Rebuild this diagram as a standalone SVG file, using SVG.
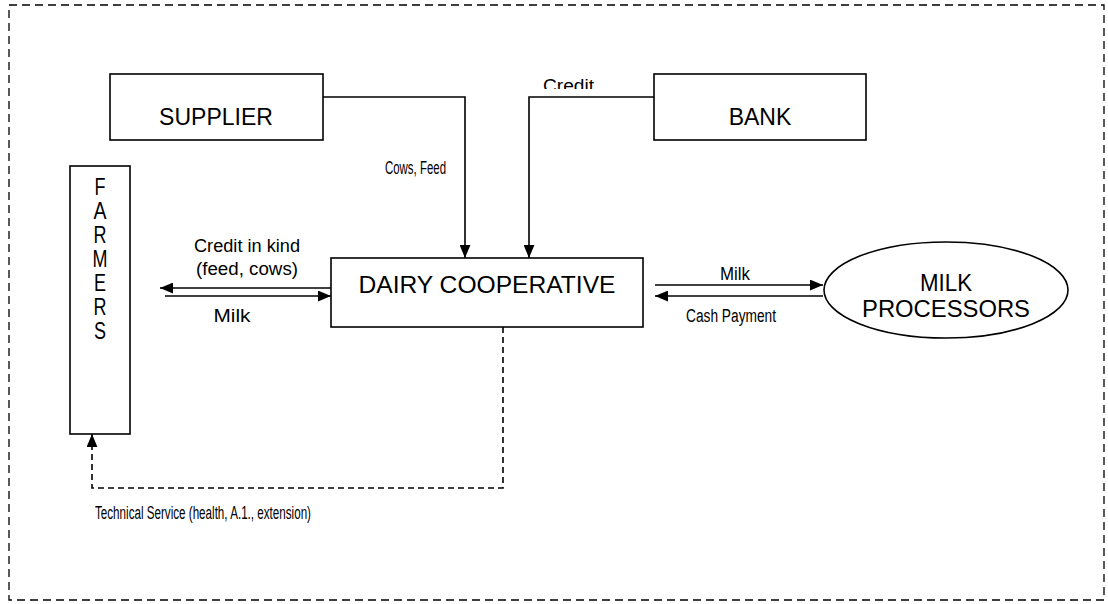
<svg xmlns="http://www.w3.org/2000/svg" width="1108" height="604" viewBox="0 0 1108 604">
<style>
.box{fill:#fff;stroke:#000;stroke-width:1.6}
.ln{fill:none;stroke:#000;stroke-width:1.6}
.dash{fill:none;stroke:#000;stroke-width:1.6;stroke-dasharray:6 4}
.big{font-family:"Liberation Sans",Arial,sans-serif;font-size:23px;fill:#000}
.nar{font-family:"Liberation Sans Narrow","Liberation Sans",Arial,sans-serif;font-size:23px;fill:#000}
.lbl{font-family:"Liberation Sans Narrow","Liberation Sans",Arial,sans-serif;font-size:18px;fill:#000}
.mid{text-anchor:middle}
</style>
<defs>
<marker id="ah" viewBox="0 0 12 10" refX="12" refY="5" markerWidth="13" markerHeight="11" markerUnits="userSpaceOnUse" orient="auto">
<path d="M0,0 L12,5 L0,10 Z" fill="#000"/>
</marker>
<clipPath id="cc"><rect x="530" y="70" width="80" height="19"/></clipPath>
</defs>
<rect x="9" y="5" width="1095" height="595" fill="none" stroke="#000" stroke-width="1.3" stroke-dasharray="8 5"/>

<g id="connectors">
<polyline class="ln" points="323,97 465,97 465,258" marker-end="url(#ah)"/>
<polyline class="ln" points="654,97 529,97 529,258" marker-end="url(#ah)"/>
<line class="ln" x1="331" y1="288" x2="160" y2="288" marker-end="url(#ah)"/>
<line class="ln" x1="165" y1="296" x2="331" y2="296" marker-end="url(#ah)"/>
<line class="ln" x1="655" y1="285" x2="823" y2="285" marker-end="url(#ah)"/>
<line class="ln" x1="823" y1="296" x2="655" y2="296" marker-end="url(#ah)"/>
<polyline class="dash" points="503,327 503,488 92,488 92,434" marker-end="url(#ah)"/>
<text class="lbl" x="385" y="174" textLength="61" lengthAdjust="spacingAndGlyphs">Cows, Feed</text>
<text class="lbl" x="543" y="92" textLength="51" lengthAdjust="spacingAndGlyphs" clip-path="url(#cc)">Credit</text>
<text class="lbl mid" x="247" y="252" font-size="19" textLength="106" lengthAdjust="spacingAndGlyphs">Credit in kind</text>
<text class="lbl mid" x="247" y="275" font-size="19" textLength="102" lengthAdjust="spacingAndGlyphs">(feed, cows)</text>
<text class="lbl mid" x="232" y="322" font-size="19" textLength="37" lengthAdjust="spacingAndGlyphs">Milk</text>
<text class="lbl mid" x="735" y="280" font-size="15" textLength="30" lengthAdjust="spacingAndGlyphs">Milk</text>
<text class="lbl mid" x="731" y="322" font-size="19" textLength="90" lengthAdjust="spacingAndGlyphs">Cash Payment</text>
<text class="lbl" x="95" y="519" textLength="216" lengthAdjust="spacingAndGlyphs">Technical Service (health, A.1., extension)</text>
</g>

<g id="supplier">
<rect class="box" x="110" y="74" width="213" height="66"/>
<text class="big mid" x="216" y="125">SUPPLIER</text>
</g>
<g id="bank">
<rect class="box" x="654" y="74" width="212" height="66"/>
<text class="big mid" x="760" y="125">BANK</text>
</g>
<g id="farmers">
<rect class="box" x="70" y="166" width="60" height="268"/>
<text class="nar mid" x="100" y="195" textLength="11" lengthAdjust="spacingAndGlyphs">F</text>
<text class="nar mid" x="100" y="219" textLength="13" lengthAdjust="spacingAndGlyphs">A</text>
<text class="nar mid" x="100" y="243" textLength="13" lengthAdjust="spacingAndGlyphs">R</text>
<text class="nar mid" x="100" y="267" textLength="15" lengthAdjust="spacingAndGlyphs">M</text>
<text class="nar mid" x="100" y="291" textLength="12" lengthAdjust="spacingAndGlyphs">E</text>
<text class="nar mid" x="100" y="315" textLength="13" lengthAdjust="spacingAndGlyphs">R</text>
<text class="nar mid" x="100" y="339" textLength="12" lengthAdjust="spacingAndGlyphs">S</text>
</g>
<g id="dairy">
<rect class="box" x="331" y="258" width="312" height="69"/>
<text class="big mid" x="487" y="293" textLength="257" lengthAdjust="spacingAndGlyphs">DAIRY COOPERATIVE</text>
</g>
<g id="processors">
<ellipse class="box" cx="946" cy="290" rx="122" ry="48"/>
<text class="nar mid" x="946" y="291" textLength="52" lengthAdjust="spacingAndGlyphs">MILK</text>
<text class="nar mid" x="946" y="317" textLength="168" lengthAdjust="spacingAndGlyphs">PROCESSORS</text>
</g>
</svg>
